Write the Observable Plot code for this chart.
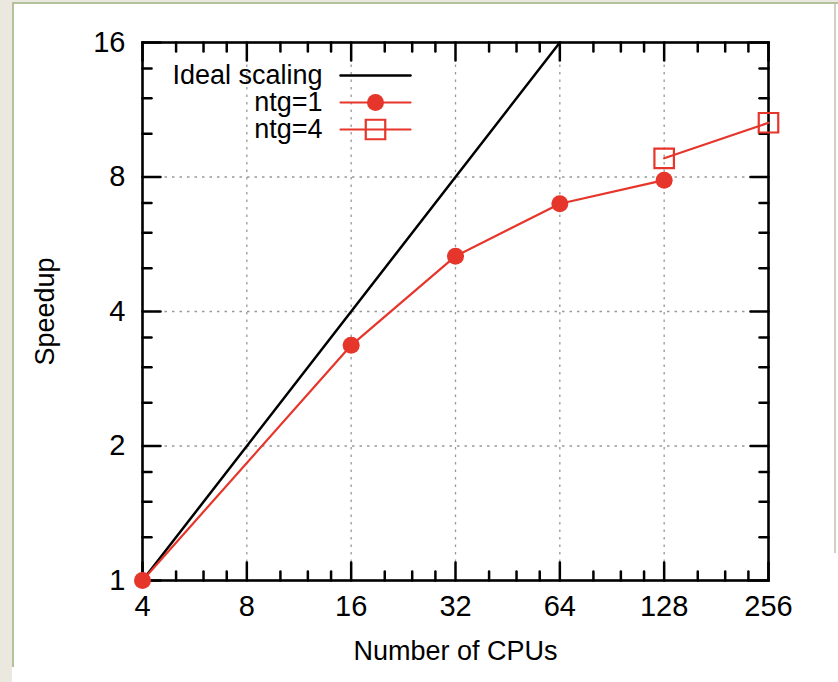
<!DOCTYPE html>
<html><head><meta charset="utf-8">
<script src="https://cdn.jsdelivr.net/npm/d3@7"></script>
<script src="https://cdn.jsdelivr.net/npm/@observablehq/plot@0.6"></script>
<style>
html,body{margin:0;padding:0;background:#fff;width:838px;height:682px;overflow:hidden;}
#page{position:relative;width:838px;height:682px;}
.deco{position:absolute;}
#chart{position:absolute;left:0;top:0;}
#chart svg{overflow:visible;}
</style></head><body>
<div id="page">
<div class="deco" style="left:0;top:0;width:12px;height:682px;background:#ebe9df"></div>
<div class="deco" style="left:0;top:0;width:838px;height:2px;background:#ebe9df"></div>
<div class="deco" style="left:12px;top:2px;width:826px;height:2px;background:#b3c29a"></div>
<div class="deco" style="left:12px;top:2px;width:2px;height:665px;background:#b3c29a"></div>
<div class="deco" style="left:834px;top:4px;width:2px;height:549px;background:#cfcfc4"></div>
<div id="chart"></div>
</div>
<script>
// ---- data ----
const cpuTicks = [4, 8, 16, 32, 64, 128, 256];
const speedupTicks = [1, 2, 4, 8, 16];
const minorFactors = [1.25, 1.5, 1.75];

const idealCpus = [4, 64];
const idealSpeedup = [1, 16];
const ntg1Cpus = [4, 16, 32, 64, 128];
const ntg1Speedup = [1, 3.36, 5.32, 6.97, 7.87];
const ntg4Cpus = [128, 256];
const ntg4Speedup = [8.81, 10.58];

const legendLabels = ["Ideal scaling", "ntg=1", "ntg=4"];
const xTitle = "Number of CPUs";
const yTitle = "Speedup";

// ---- styling ----
const RED = "#e6352b";
const FONT = "Liberation Sans, Arial, Helvetica, sans-serif";
const FS = 27;
const TICK_FS = 29;

const toRows = (xs, ys) => xs.map((x, i) => ({x, y: ys[i]}));
const ideal = toRows(idealCpus, idealSpeedup);
const ntg1 = toRows(ntg1Cpus, ntg1Speedup);
const ntg4 = toRows(ntg4Cpus, ntg4Speedup);

const cpuMinor = cpuTicks.slice(0, -1).flatMap(t => minorFactors.map(f => t * f));
const speedupMinor = speedupTicks.slice(0, -1).flatMap(t => minorFactors.map(f => t * f));

const tickShape = {draw(ctx, l) { ctx.moveTo(0, 0); ctx.lineTo(0, -l); }};
const MAJ = 18, MIN = 9, TW = 2.5;
function ticksX(values, len) {
  return [
    Plot.vector(values, {x: d => d, frameAnchor: "bottom", anchor: "start", rotate: 0, length: len, shape: tickShape, stroke: "black", strokeWidth: TW}),
    Plot.vector(values, {x: d => d, frameAnchor: "top", anchor: "start", rotate: 180, length: len, shape: tickShape, stroke: "black", strokeWidth: TW})
  ];
}
function ticksY(values, len) {
  return [
    Plot.vector(values, {y: d => d, frameAnchor: "left", anchor: "start", rotate: 90, length: len, shape: tickShape, stroke: "black", strokeWidth: TW}),
    Plot.vector(values, {y: d => d, frameAnchor: "right", anchor: "start", rotate: -90, length: len, shape: tickShape, stroke: "black", strokeWidth: TW})
  ];
}

// legend (pixel offsets from the frame's top-left corner)
const LX_TEXT = 180, LX_L0 = 198, L_LEN = 70, LX_MARK = 233;
const LY = [33, 60, 87];
const legend = [
  ...legendLabels.map((t, i) => Plot.text([t], {frameAnchor: "top-left", dx: LX_TEXT, dy: LY[i], textAnchor: "end", lineAnchor: "middle", fill: "black"})),
  Plot.vector([0], {frameAnchor: "top-left", dx: LX_L0, dy: LY[0], anchor: "start", rotate: 90, length: L_LEN, shape: tickShape, stroke: "black", strokeWidth: 2.5}),
  Plot.vector([0], {frameAnchor: "top-left", dx: LX_L0, dy: LY[1], anchor: "start", rotate: 90, length: L_LEN, shape: tickShape, stroke: RED, strokeWidth: 2.2}),
  Plot.vector([0], {frameAnchor: "top-left", dx: LX_L0, dy: LY[2], anchor: "start", rotate: 90, length: L_LEN, shape: tickShape, stroke: RED, strokeWidth: 2.2}),
  Plot.dot([0], {frameAnchor: "top-left", dx: LX_MARK, dy: LY[1], r: 8.5, fill: RED, stroke: "none"}),
  Plot.dot([0], {frameAnchor: "top-left", dx: LX_MARK, dy: LY[2], r: 11, symbol: "square", fill: "none", stroke: RED, strokeWidth: 2.2})
];

const chart = Plot.plot({
  width: 838,
  height: 682,
  marginTop: 42,
  marginRight: 70,
  marginBottom: 102,
  marginLeft: 142,
  style: {fontFamily: FONT, fontSize: FS + "px", background: "transparent", color: "black"},
  x: {type: "log", base: 2, domain: [4, 256]},
  y: {type: "log", base: 2, domain: [1, 16]},
  marks: [
    Plot.gridX(cpuTicks.slice(1, -1), {stroke: "#999999", strokeOpacity: 1, strokeWidth: 1.3, strokeDasharray: "2.5,5"}),
    Plot.gridY(speedupTicks.slice(1, -1), {stroke: "#999999", strokeOpacity: 1, strokeWidth: 1.3, strokeDasharray: "2.5,5"}),
    Plot.frame({stroke: "black", strokeWidth: 2.6}),
    ...ticksX(cpuTicks, MAJ), ...ticksX(cpuMinor, MIN),
    ...ticksY(speedupTicks, MAJ), ...ticksY(speedupMinor, MIN),
    Plot.axisX({ticks: cpuTicks, anchor: "bottom", tickSize: 0, tickPadding: 15, tickFormat: d => String(d), label: null, fontSize: TICK_FS}),
    Plot.axisY({ticks: speedupTicks, anchor: "left", tickSize: 0, tickPadding: 17, tickFormat: d => String(d), label: null, fontSize: TICK_FS}),
    Plot.text([xTitle], {frameAnchor: "bottom", dy: 71, textAnchor: "middle", lineAnchor: "middle", fill: "black"}),
    Plot.text([yTitle], {frameAnchor: "left", dx: -97, rotate: -90, textAnchor: "middle", lineAnchor: "middle", fill: "black"}),
    Plot.line(ideal, {x: "x", y: "y", stroke: "black", strokeWidth: 2.5}),
    Plot.line(ntg1, {x: "x", y: "y", stroke: RED, strokeWidth: 2.2}),
    Plot.dot(ntg1, {x: "x", y: "y", r: 8.5, fill: RED, stroke: "none"}),
    Plot.line(ntg4, {x: "x", y: "y", stroke: RED, strokeWidth: 2.2}),
    Plot.dot(ntg4, {x: "x", y: "y", r: 11, symbol: "square", fill: "none", stroke: RED, strokeWidth: 2.2}),
    ...legend
  ]
});
document.getElementById("chart").appendChild(chart);
</script>
</body></html>
